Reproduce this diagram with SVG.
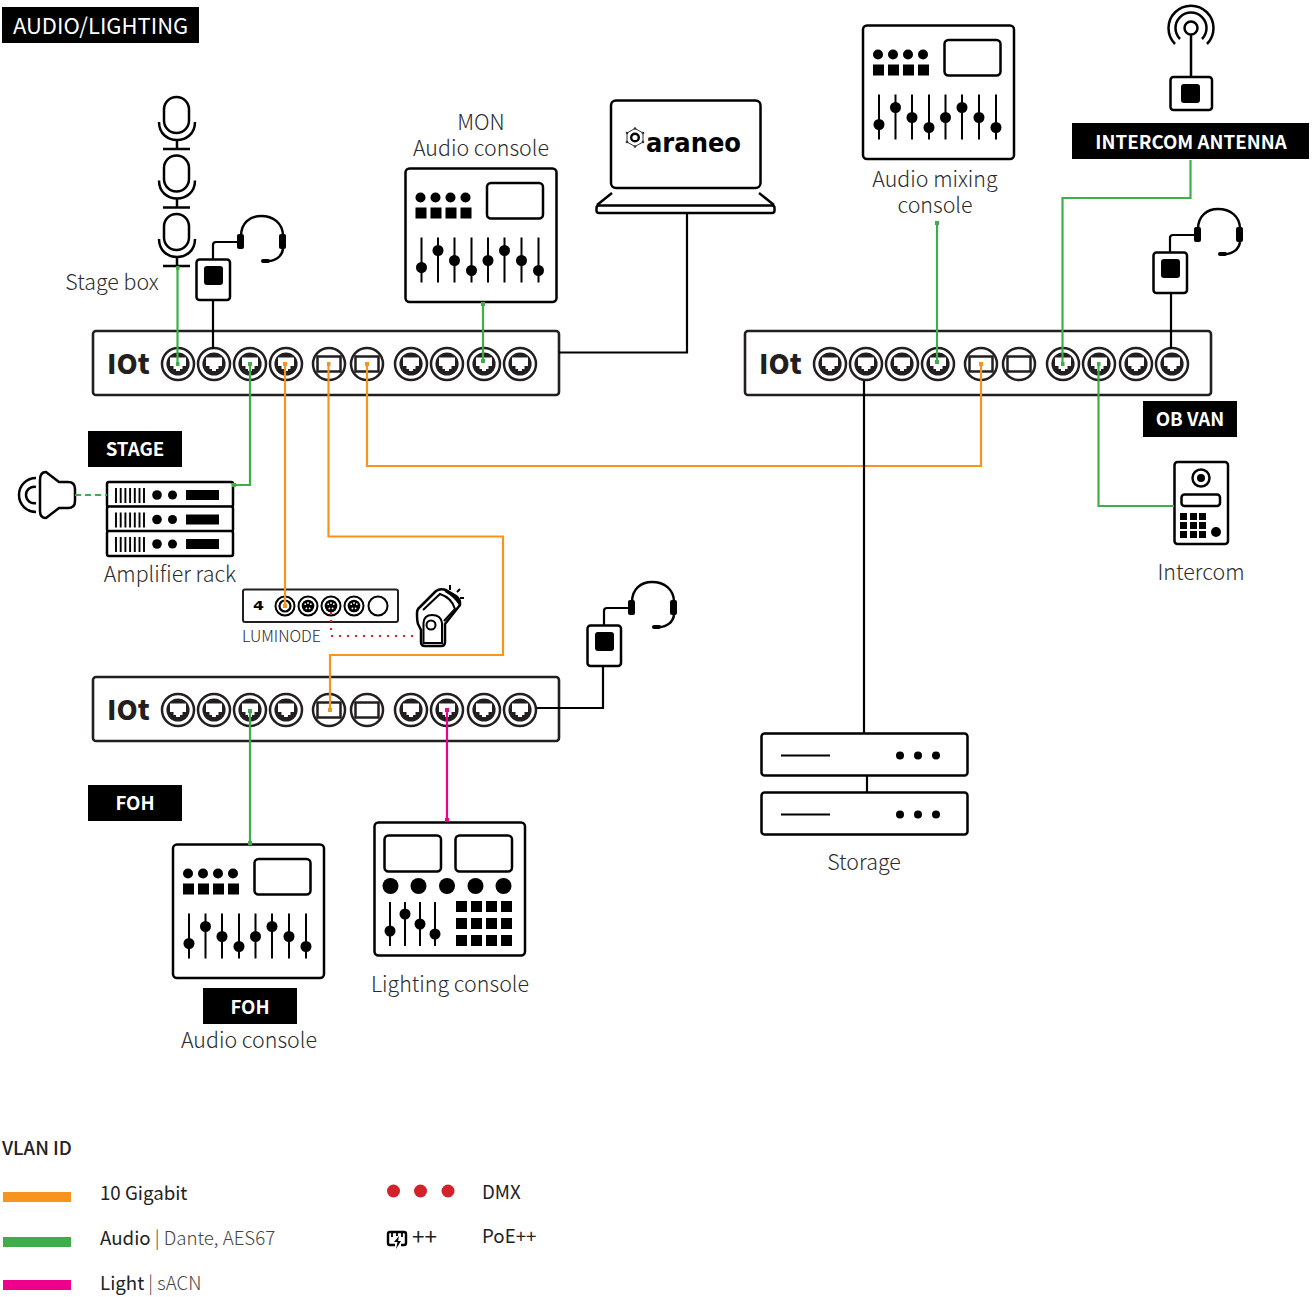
<svg xmlns="http://www.w3.org/2000/svg" width="1316" height="1297" viewBox="0 0 1316 1297">
<style>
text{font-family:"Noto Sans CJK JP","Noto Sans",sans-serif;fill:#2b2b2b;}
.lbl{font-size:21.4px;font-weight:300;text-anchor:middle;}
.tag{font-size:18.7px;font-weight:700;fill:#fff;text-anchor:middle;}
.leg{font-size:18.7px;font-weight:400;fill:#222;}
.lt{font-weight:300;fill:#444;font-size:18.7px;}
.iot{font-size:27px;font-weight:900;fill:#231f20;}
.k{fill:none;stroke:#000;stroke-width:2.5;}
.kw{fill:#fff;stroke:#000;stroke-width:2.5;}
.f{fill:#000;}
.sw{fill:#fff;stroke:#231f20;stroke-width:2.6;}
.c{fill:none;stroke-width:2.2;}
.g{stroke:#3fae49;}
.o{stroke:#f7941d;}
.p{stroke:#ec008c;}
.b{stroke:#000;}
</style>
<defs>
<marker id="mg" markerWidth="4" markerHeight="4" refX="2" refY="2" markerUnits="userSpaceOnUse"><rect width="4" height="4" fill="#3fae49"/></marker>
<marker id="mo" markerWidth="4" markerHeight="4" refX="2" refY="2" markerUnits="userSpaceOnUse"><rect width="4" height="4" fill="#f7941d"/></marker>
<marker id="mp" markerWidth="4" markerHeight="4" refX="2" refY="2" markerUnits="userSpaceOnUse"><rect width="4" height="4" fill="#ec008c"/></marker>
<g id="rj">
<circle r="16" fill="#fff" stroke="#231f20" stroke-width="2.5"/>
<circle r="11.6" fill="#231f20"/>
<path d="M-8,-6.5H8V2H4.5V5H2V7H-2V5H-4.5V2H-8Z" fill="#fff"/>
</g>
<g id="sfp">
<circle r="16" fill="#fff" stroke="#231f20" stroke-width="2.5"/>
<rect x="-11.5" y="-7.5" width="23" height="15" fill="#fff" stroke="#231f20" stroke-width="2.5"/>
</g>
<g id="switch">
<rect x="0" y="0" width="466" height="64" rx="3" class="sw"/>
<text x="14" y="43" class="iot">IOt</text>
<use href="#rj" x="85" y="33"/><use href="#rj" x="121" y="33"/><use href="#rj" x="157" y="33"/><use href="#rj" x="193" y="33"/>
<use href="#sfp" x="236" y="33"/><use href="#sfp" x="274" y="33"/>
<use href="#rj" x="318" y="33"/><use href="#rj" x="354" y="33"/><use href="#rj" x="391" y="33"/><use href="#rj" x="427" y="33"/>
</g>
<g id="console">
<rect width="151" height="133.500" rx="4" class="kw"/>
<g class="f">
<circle cx="15" cy="29" r="5"/><circle cx="30" cy="29" r="5"/><circle cx="45" cy="29" r="5"/><circle cx="60" cy="29" r="5"/>
<rect x="10" y="39" width="11" height="11"/><rect x="25" y="39" width="11" height="11"/><rect x="40" y="39" width="11" height="11"/><rect x="55" y="39" width="11" height="11"/>
<circle cx="16" cy="99" r="5.5"/><circle cx="32.500" cy="82" r="5.500"/><circle cx="49" cy="92" r="5.500"/><circle cx="66" cy="102" r="5.500"/><circle cx="82.500" cy="92" r="5.500"/><circle cx="99" cy="82" r="5.500"/><circle cx="116" cy="92" r="5.500"/><circle cx="133" cy="102" r="5.500"/>
</g>
<rect x="81.500" y="14.500" width="56" height="35.500" rx="4" class="k"/>
<path d="M16,69V114M32.500,69V114M49,69V114M66,69V114M82.500,69V114M99,69V114M116,69V114M133,69V114" fill="none" stroke="#000" stroke-width="2"/>
</g>
<g id="amp">
<rect width="126" height="25" rx="2" class="kw"/>
<path d="M9,6V21M13.700,6V21M18.400,6V21M23.100,6V21M27.800,6V21M32.500,6V21M37,6V21" fill="none" stroke="#000" stroke-width="1.900"/>
<circle cx="50" cy="13" r="4.800" class="f"/><circle cx="65.500" cy="13" r="4.500" class="f"/>
<rect x="79" y="8" width="33" height="10" class="f"/>
</g>
<g id="mic">
<rect x="164" y="97" width="25" height="36" rx="12.500" class="k"/>
<path d="M159,122C159,134 168,140 177,140C186,140 195,134 195,122M177,140V149M163,149H190" class="k"/>
</g>
<g id="headset">
<path d="M241,236C241,223 250,216 261,216C273,216 283,223 283,236M283,249C282,256 276,261 268,261" class="k"/>
<rect x="237" y="234" width="7" height="15" rx="2" class="f"/><rect x="279" y="234" width="7" height="15" rx="2" class="f"/><rect x="261" y="259" width="9" height="4" rx="2" class="f"/>
<path d="M237,242H216Q213,242 213,245V259" fill="none" stroke="#000" stroke-width="2.200"/>
<rect x="196.500" y="259.500" width="33.500" height="40.500" rx="3" class="kw"/>
<rect x="204" y="266" width="19" height="19" rx="3" class="f"/>
</g>
<g id="srv">
<rect width="206" height="42" rx="3" class="kw"/>
<path d="M19.500,22H68.500" fill="none" stroke="#000" stroke-width="2"/>
<circle cx="138.500" cy="22" r="4" class="f"/><circle cx="156.500" cy="22" r="4" class="f"/><circle cx="174.500" cy="22" r="4" class="f"/>
</g>
<g id="xlr">
<circle r="9.500" fill="#fff" stroke="#000" stroke-width="2"/><circle r="6.300" class="f"/>
<circle cx="-2.800" cy="-1.800" r="0.900" fill="#fff"/><circle cx="2.800" cy="-1.800" r="0.900" fill="#fff"/><circle cy="-3" r="0.900" fill="#fff"/><circle cx="-1.600" cy="2.400" r="0.900" fill="#fff"/><circle cx="1.600" cy="2.400" r="0.900" fill="#fff"/>
</g>
</defs>

<g id="title"><rect x="2" y="7" width="197" height="36" fill="#000"/><text x="13" y="34" style="font-size:22px;font-weight:400;fill:#fff">AUDIO/LIGHTING</text></g>

<g id="switch-stage"><use href="#switch" x="93" y="331"/></g>
<g id="switch-obvan"><use href="#switch" x="745" y="331"/></g>
<g id="switch-foh"><use href="#switch" x="93" y="677"/></g>

<g id="stage-mics"><use href="#mic"/><use href="#mic" y="58.500"/><use href="#mic" y="117"/></g>
<g id="stage-box-label"><text x="112" y="290" class="lbl">Stage box</text></g>
<g id="headset-stage"><use href="#headset"/></g>
<g id="headset-obvan"><use href="#headset" x="957" y="-7"/></g>
<g id="headset-foh"><use href="#headset" x="391" y="366"/></g>

<g id="mon-console"><use href="#console" x="405.500" y="168.500"/><text x="481" y="130" class="lbl">MON</text><text x="481" y="156" class="lbl">Audio console</text></g>
<g id="mixing-console"><use href="#console" x="863" y="25.500"/><text x="935" y="187" class="lbl">Audio mixing</text><text x="935" y="213" class="lbl">console</text></g>
<g id="foh-console"><use href="#console" x="173" y="844.500"/><rect x="203" y="988" width="94" height="36" fill="#000"/><text x="250" y="1014" class="tag">FOH</text><text x="249" y="1048" class="lbl">Audio console</text></g>

<g id="laptop">
<rect x="611" y="100.500" width="149.500" height="87.500" rx="5" class="kw"/>
<path d="M612,193L597,205M759,193L774,205" class="k"/>
<rect x="596.500" y="205.500" width="178" height="7.500" rx="2.500" class="kw"/>
<path d="M635,128.500L643,133V142L635,146.500L627,142V133Z" fill="none" stroke="#333" stroke-width="1"/>
<g fill="#333"><circle cx="635" cy="128.500" r="1.300"/><circle cx="643" cy="133" r="1.300"/><circle cx="643" cy="142" r="1.300"/><circle cx="635" cy="146.500" r="1.300"/><circle cx="627" cy="142" r="1.300"/><circle cx="627" cy="133" r="1.300"/></g>
<circle cx="635" cy="137.500" r="3.800" fill="none" stroke="#000" stroke-width="2.400"/>
<text x="646" y="152" textLength="95" lengthAdjust="spacingAndGlyphs" style="font-family:'DejaVu Sans',sans-serif;font-size:26px;font-weight:700;fill:#000">araneo</text>
</g>

<g id="antenna">
<circle cx="1191" cy="28" r="6.500" class="k"/>
<path d="M1180,39A15.500,15.500 0 1 1 1202,39M1175,44A22.500,22.500 0 1 1 1207,44M1191,34.500V77" class="k"/>
<rect x="1170.500" y="77" width="41.500" height="33" rx="3" class="kw"/>
<rect x="1181" y="84" width="19" height="19" rx="3" class="f"/>
<rect x="1072" y="123" width="237" height="36" fill="#000"/>
<text x="1191" y="149" class="tag">INTERCOM ANTENNA</text>
</g>

<g id="stage-tag"><rect x="88" y="431" width="94" height="36" fill="#000"/><text x="135" y="456" class="tag">STAGE</text></g>
<g id="obvan-tag"><rect x="1143" y="401" width="94" height="36" fill="#000"/><text x="1190" y="426" class="tag">OB VAN</text></g>
<g id="foh-tag"><rect x="88" y="785" width="94" height="36" fill="#000"/><text x="135" y="810" class="tag">FOH</text></g>

<g id="speaker">
<path d="M40,480Q40,472 46,472L59,482H68Q75,482 75,489V501Q75,508 68,508H59L46,518Q40,518 40,511Z" class="k"/>
<path d="M36,478A17,17 0 0 0 36,512M36,487A8.200,8.200 0 1 0 36,503" class="k"/>
</g>
<g id="amp-rack">
<use href="#amp" x="107" y="482"/><use href="#amp" x="107" y="506.500"/><use href="#amp" x="107" y="531"/>
<text x="170" y="582" class="lbl">Amplifier rack</text>
</g>

<g id="luminode">
<rect x="243" y="589.500" width="155" height="32.500" rx="2" fill="#fff" stroke="#231f20" stroke-width="2"/>
<text x="253" y="610" textLength="11" lengthAdjust="spacingAndGlyphs" style="font-family:'DejaVu Sans',sans-serif;font-size:13px;font-weight:700;fill:#000">4</text>
<circle cx="285" cy="606" r="9.500" fill="#fff" stroke="#000" stroke-width="2"/><circle cx="285" cy="606" r="5.500" fill="none" stroke="#000" stroke-width="2.200"/>
<use href="#xlr" x="308" y="606"/><use href="#xlr" x="331" y="606"/><use href="#xlr" x="354" y="606"/>
<circle cx="378" cy="606" r="9.500" fill="#fff" stroke="#000" stroke-width="2"/>
<text x="242" y="642" style="font-size:16px;font-weight:300">LUMINODE</text>
</g>

<g id="fixture">
<path d="M417,613Q417,609 420,607L436,591Q440,588 446,590L456,596Q461,600 460,605L445,624V642Q445,646 441,646H425Q421,646 421,642V630L418,624Q417,621 417,613Z" class="kw" stroke-linejoin="round"/>
<path d="M423,610L440,594Q452,598 455,609L444,621" fill="none" stroke="#000" stroke-width="2"/>
<path d="M423.500,643V623Q424,615 432,615Q441,615 442,623V643Z" fill="#fff" stroke="#000" stroke-width="2"/>
<path d="M445,591L456,597Q460,600 459,604Q455,597 445,591Z" fill="#000" stroke="#000" stroke-width="1.500"/>
<circle cx="431" cy="625" r="4.500" fill="#fff" stroke="#000" stroke-width="2"/>
<path d="M450,585V590M460,589L457,592M460,598H464" fill="none" stroke="#000" stroke-width="2"/>
</g>

<g id="lighting-console">
<rect x="374.500" y="822.500" width="150.500" height="133" rx="4" class="kw"/>
<rect x="384.500" y="835.500" width="56.500" height="36" rx="4" class="k"/><rect x="455.500" y="835.500" width="56.500" height="36" rx="4" class="k"/>
<g class="f">
<circle cx="390.500" cy="886" r="8"/><circle cx="418.500" cy="886" r="8"/><circle cx="447" cy="886" r="8"/><circle cx="475.500" cy="886" r="8"/><circle cx="503.500" cy="886" r="8"/>
<circle cx="390" cy="931" r="5.500"/><circle cx="405" cy="914" r="5.500"/><circle cx="420" cy="924" r="5.500"/><circle cx="435" cy="934" r="5.500"/>
<path d="M456,901h11v11h-11zM471,901h11v11h-11zM486,901h11v11h-11zM501,901h11v11h-11zM456,918h11v11h-11zM471,918h11v11h-11zM486,918h11v11h-11zM501,918h11v11h-11zM456,935h11v11h-11zM471,935h11v11h-11zM486,935h11v11h-11zM501,935h11v11h-11z"/>
</g>
<path d="M390,902V946M405,902V946M420,902V946M435,902V946" fill="none" stroke="#000" stroke-width="2"/>
<text x="450" y="992" class="lbl">Lighting console</text>
</g>

<g id="storage">
<use href="#srv" x="761.500" y="733.500"/><use href="#srv" x="761.500" y="792.500"/>
<text x="864" y="870" class="lbl">Storage</text>
</g>

<g id="intercom">
<rect x="1174.500" y="462" width="53.500" height="82" rx="3" class="kw"/>
<circle cx="1201" cy="478" r="8.500" class="k"/><circle cx="1201" cy="478" r="4" class="f"/>
<rect x="1181.500" y="494.500" width="38.500" height="11.500" rx="3" class="k"/>
<path class="f" d="M1180,513h7v7h-7zM1190,513h7v7h-7zM1199,513h7v7h-7zM1180,522h7v7h-7zM1190,522h7v7h-7zM1199,522h7v7h-7zM1180,531h7v7h-7zM1190,531h7v7h-7zM1199,531h7v7h-7z"/>
<circle cx="1216" cy="532" r="5" class="f"/>
<text x="1201" y="580" class="lbl">Intercom</text>
</g>

<g id="legend">
<text x="2" y="1155" class="leg" style="font-weight:500">VLAN ID</text>
<rect x="3" y="1192" width="68" height="10" fill="#f7941d"/>
<rect x="3" y="1237" width="68" height="10" fill="#3fae49"/>
<rect x="3" y="1280" width="68" height="10" fill="#ec008c"/>
<text x="100" y="1200" class="leg">10 Gigabit</text>
<text x="100" y="1245" class="leg">Audio<tspan class="lt"> | Dante, AES67</tspan></text>
<text x="100" y="1290" class="leg">Light<tspan class="lt"> | sACN</tspan></text>
<circle cx="393.500" cy="1191" r="6.500" fill="#d2232a"/><circle cx="420.500" cy="1191" r="6.500" fill="#d2232a"/><circle cx="448" cy="1191" r="6.500" fill="#d2232a"/>
<text x="482" y="1199" class="leg">DMX</text>
<path d="M395,1245H390Q388,1245 388,1243V1234Q388,1232 390,1232H404Q406,1232 406,1234V1243Q406,1245 404,1245H401" fill="none" stroke="#000" stroke-width="2.400"/>
<path d="M392,1233v4M397,1233v3M402,1233v4" stroke="#000" stroke-width="1.800"/>
<path d="M399,1236L394,1242H397.500L396,1249L401,1241H398Z" fill="#000"/>
<text x="412" y="1245" class="leg" style="font-size:22.500px">++</text>
<text x="482" y="1243" class="leg">PoE++</text>
</g>

<g id="connectors">
<path class="c g" marker-start="url(#mg)" marker-end="url(#mg)" d="M177.500,268V364"/>
<path class="c g" marker-start="url(#mg)" marker-end="url(#mg)" d="M483,304V361"/>
<path class="c g" marker-start="url(#mg)" marker-end="url(#mg)" d="M937,223V362"/>
<path class="c g" marker-start="url(#mg)" marker-end="url(#mg)" d="M234,485H250V364"/>
<path class="c g" marker-end="url(#mg)" d="M1190.500,160V198H1062.500V364"/>
<path class="c g" marker-start="url(#mg)" d="M1098.500,364V506H1174"/>
<path class="c g" marker-start="url(#mg)" marker-end="url(#mg)" d="M250,711V843"/>
<path class="c g" stroke-dasharray="6 4" d="M75,495H107"/>
<path class="c o" marker-start="url(#mo)" marker-end="url(#mo)" d="M285,364V606"/>
<path class="c o" marker-start="url(#mo)" marker-end="url(#mo)" d="M328.500,364V536.500H503V655H330V710"/>
<path class="c o" marker-start="url(#mo)" marker-end="url(#mo)" d="M367,364V466H981V364"/>
<path class="c p" marker-start="url(#mp)" marker-end="url(#mp)" d="M447,710V820"/>
<path class="c b" d="M559,352.500H687V213"/>
<path class="c b" d="M864,381V733"/>
<path class="c b" d="M213,300V349"/>
<path class="c b" d="M1171,294V349"/>
<path class="c b" d="M537,708H603V666"/>
<path class="c b" d="M867,775V792"/>
<path d="M331,612V636H418" fill="none" stroke="#ed1c2e" stroke-width="2.200" stroke-dasharray="2 6"/>
</g>
</svg>
